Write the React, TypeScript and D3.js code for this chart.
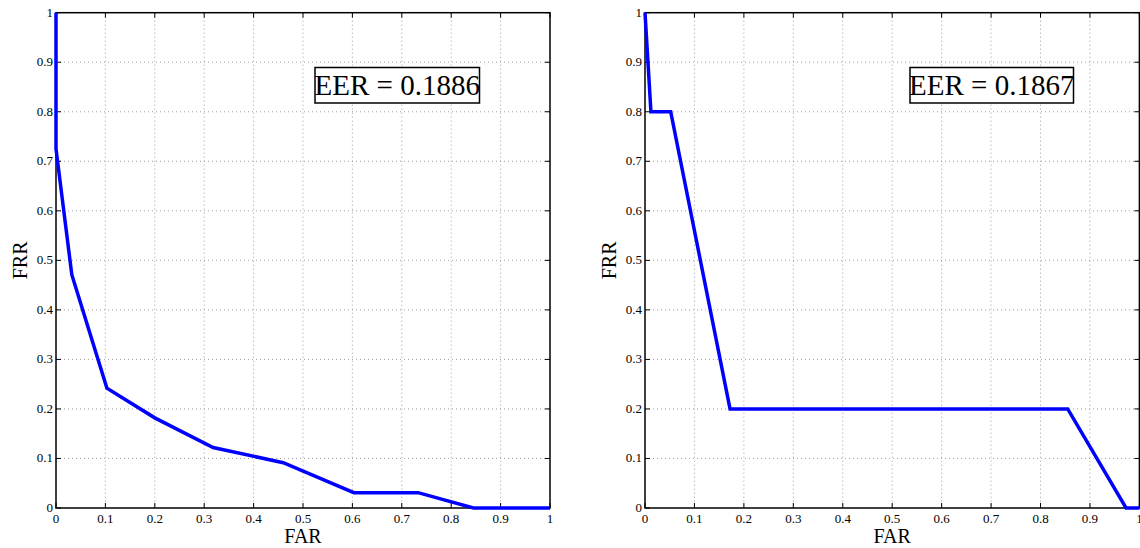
import React, { useEffect, useRef } from "react";
import * as d3 from "d3";

// DET curves: false acceptance rate (FAR) vs false rejection rate (FRR)
const leftFAR = [0, 0, 0.032, 0.103, 0.2, 0.318, 0.46, 0.603, 0.733, 0.845, 1];
const leftFRR = [1, 0.725, 0.471, 0.242, 0.182, 0.122, 0.0915, 0.031, 0.031, 0, 0];
const leftEER = "EER = 0.1886";

const rightFAR = [0, 0.012, 0.052, 0.172, 0.855, 0.973, 1];
const rightFRR = [1, 0.8, 0.8, 0.2, 0.2, 0, 0];
const rightEER = "EER = 0.1867";

const tickValues = [0, 0.1, 0.2, 0.3, 0.4, 0.5, 0.6, 0.7, 0.8, 0.9, 1];
const tickLabels = ["0", "0.1", "0.2", "0.3", "0.4", "0.5", "0.6", "0.7", "0.8", "0.9", "1"];

const W = 1140;
const H = 548;
const FONT = '"Liberation Serif", "DejaVu Serif", serif';

type Panel = {
  far: number[];
  frr: number[];
  eer: string;
  x0: number;
  x1: number;
  box: [number, number, number, number];
  ylabX: number;
};

const panels: Panel[] = [
  { far: leftFAR, frr: leftFRR, eer: leftEER, x0: 56, x1: 550, box: [315, 67.5, 164.5, 35.5], ylabX: 21 },
  { far: rightFAR, frr: rightFRR, eer: rightEER, x0: 645, x1: 1139.4, box: [910, 67.5, 163.5, 35.5], ylabX: 610 },
];

export default function App() {
  const ref = useRef<SVGSVGElement>(null);

  useEffect(() => {
    const svg = d3.select(ref.current);
    svg.selectAll("*").remove();
    const top = 12.7;
    const bottom = 508;

    panels.forEach((p) => {
      const x = d3.scaleLinear().domain([0, 1]).range([p.x0, p.x1]);
      const y = d3.scaleLinear().domain([0, 1]).range([bottom, top]);
      const g = svg.append("g");

      // dotted grid
      tickValues.slice(1, -1).forEach((t) => {
        g.append("line")
          .attr("x1", x(t)).attr("x2", x(t)).attr("y1", top).attr("y2", bottom)
          .attr("stroke", "#888").attr("stroke-width", 0.8).attr("stroke-dasharray", "1,3");
        g.append("line")
          .attr("x1", p.x0).attr("x2", p.x1).attr("y1", y(t)).attr("y2", y(t))
          .attr("stroke", "#888").attr("stroke-width", 0.8).attr("stroke-dasharray", "1,3");
      });

      // inward ticks on all four sides
      const tl = 5;
      tickValues.forEach((t) => {
        g.append("line").attr("x1", x(t)).attr("x2", x(t)).attr("y1", bottom).attr("y2", bottom - tl).attr("stroke", "#000");
        g.append("line").attr("x1", x(t)).attr("x2", x(t)).attr("y1", top).attr("y2", top + tl).attr("stroke", "#000");
        g.append("line").attr("x1", p.x0).attr("x2", p.x0 + tl).attr("y1", y(t)).attr("y2", y(t)).attr("stroke", "#000");
        g.append("line").attr("x1", p.x1).attr("x2", p.x1 - tl).attr("y1", y(t)).attr("y2", y(t)).attr("stroke", "#000");
      });

      // tick labels
      tickValues.forEach((t, i) => {
        g.append("text")
          .attr("x", x(t)).attr("y", bottom + 15)
          .attr("text-anchor", "middle")
          .style("font-family", FONT).style("font-size", "13px")
          .text(tickLabels[i]);
        g.append("text")
          .attr("x", p.x0 - 3).attr("y", y(t) + 4)
          .attr("text-anchor", "end")
          .style("font-family", FONT).style("font-size", "13px")
          .text(tickLabels[i]);
      });

      // axis box
      g.append("rect")
        .attr("x", p.x0).attr("y", top).attr("width", p.x1 - p.x0).attr("height", bottom - top)
        .attr("fill", "none").attr("stroke", "#000").attr("stroke-width", 1.5);

      // curve
      const pts: [number, number][] = p.far.map((v, i) => [v, p.frr[i]]);
      const line = d3.line<[number, number]>().x((d) => x(d[0])).y((d) => y(d[1]));
      g.append("path")
        .attr("d", line(pts))
        .attr("fill", "none").attr("stroke", "#0000ff").attr("stroke-width", 3.5)
        .attr("stroke-linejoin", "miter");

      // EER annotation
      const [bx, by, bw, bh] = p.box;
      g.append("rect")
        .attr("x", bx).attr("y", by).attr("width", bw).attr("height", bh)
        .attr("fill", "#fff").attr("stroke", "#000").attr("stroke-width", 1.5);
      g.append("text")
        .attr("x", bx + bw / 2).attr("y", by + bh / 2 + 10)
        .attr("text-anchor", "middle")
        .style("font-family", FONT).style("font-size", "29px")
        .text(p.eer);

      // axis titles
      g.append("text")
        .attr("x", (p.x0 + p.x1) / 2).attr("y", 543)
        .attr("text-anchor", "middle")
        .style("font-family", FONT).style("font-size", "20px")
        .text("FAR");
      g.append("text")
        .attr("transform", `translate(${p.ylabX + 6},${(top + bottom) / 2}) rotate(-90)`)
        .attr("text-anchor", "middle")
        .style("font-family", FONT).style("font-size", "20px")
        .text("FRR");
    });
  }, []);

  return (
    <svg
      ref={ref}
      width={W}
      height={H}
      style={{ position: "absolute", left: 0, top: 0, background: "#fff" }}
    />
  );
}
